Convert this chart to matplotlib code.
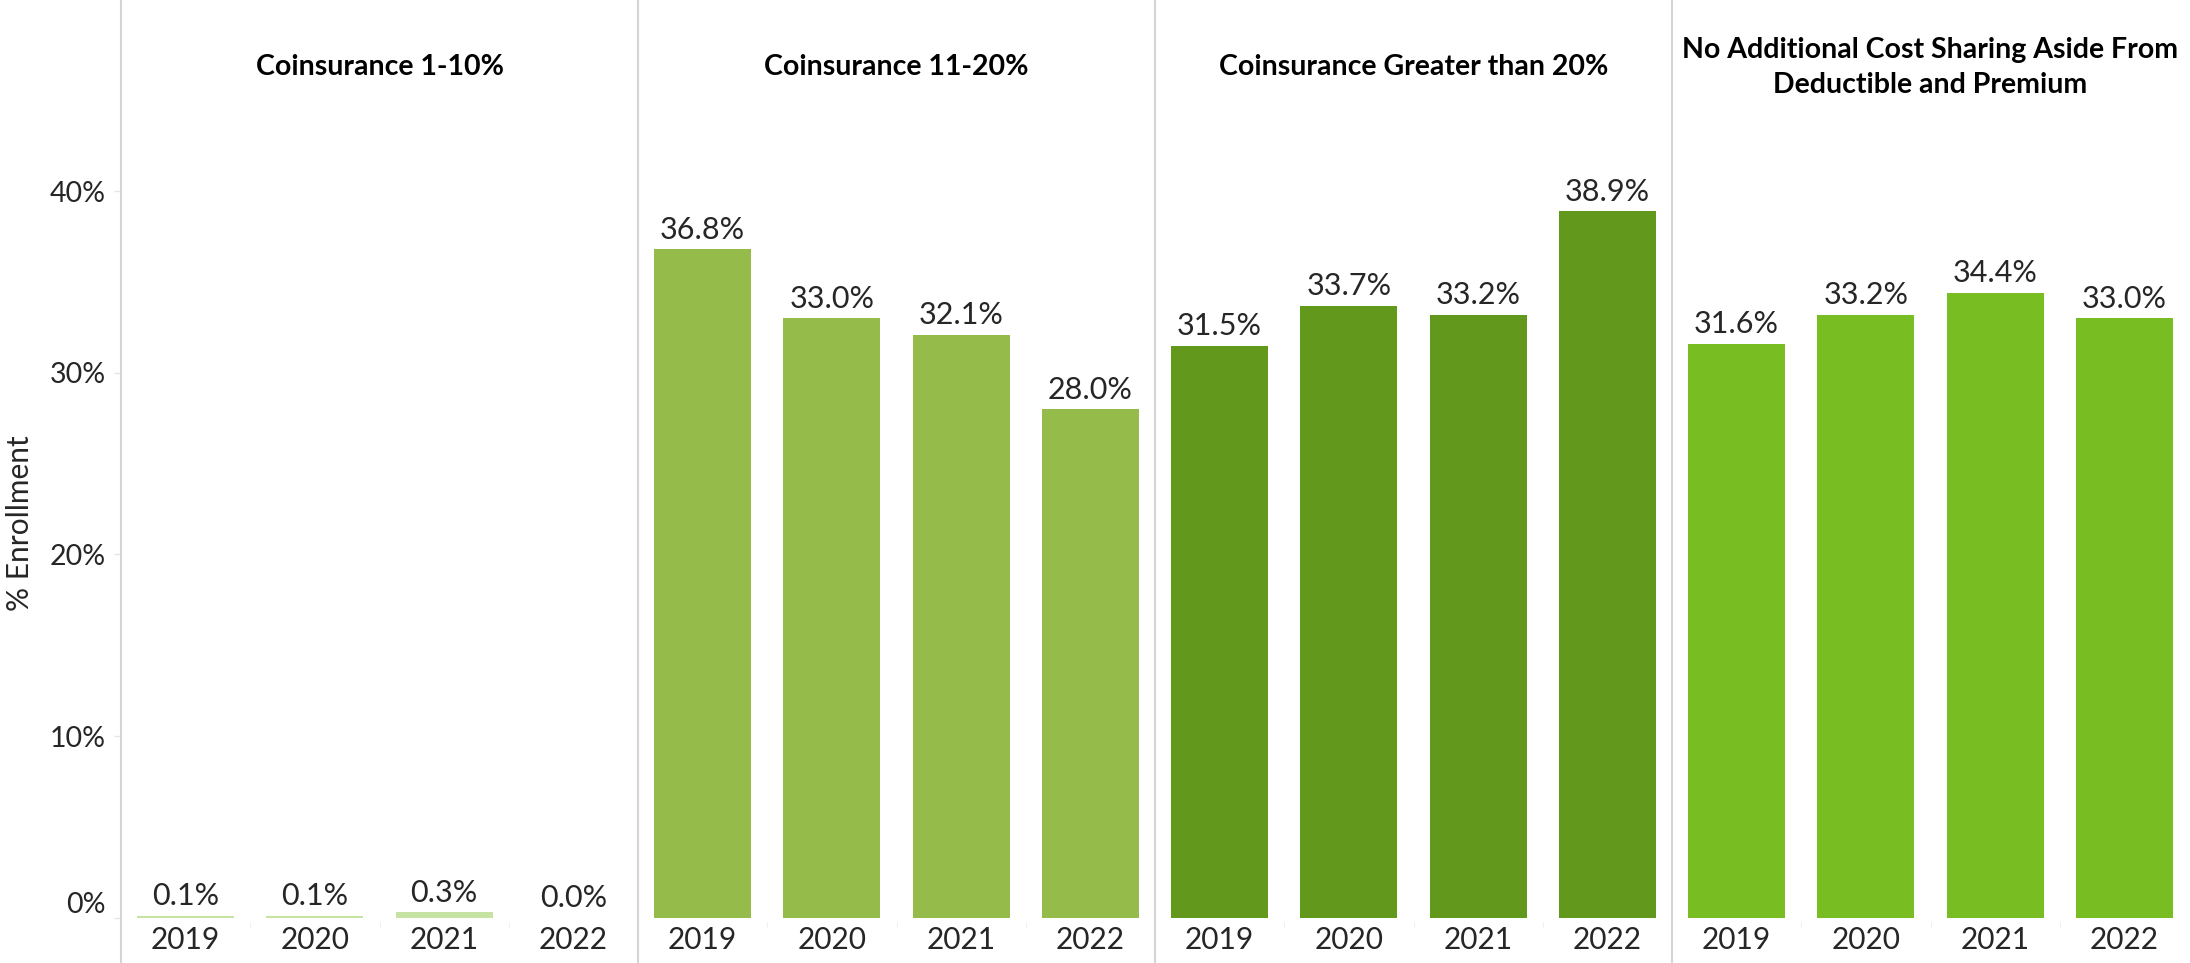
import matplotlib
matplotlib.use("Agg")
import matplotlib.pyplot as plt

plt.rcParams['font.family'] = ['Lato', 'DejaVu Sans']

years = ["2019", "2020", "2021", "2022"]
panels = [
    "Coinsurance 1-10%",
    "Coinsurance 11-20%",
    "Coinsurance Greater than 20%",
    "No Additional Cost Sharing Aside From\nDeductible and Premium",
]
coins_1_10 = [0.1, 0.1, 0.3, 0.0]
coins_11_20 = [36.8, 33.0, 32.1, 28.0]
coins_gt_20 = [31.5, 33.7, 33.2, 38.9]
no_extra = [31.6, 33.2, 34.4, 33.0]
values = [coins_1_10, coins_11_20, coins_gt_20, no_extra]
colors = ["#c7e3a4", "#95bb4b", "#62981c", "#78bd22"]
yticks = [0, 10, 20, 30, 40]

W, H = 2190, 963
fig = plt.figure(figsize=(W / 100, H / 100), dpi=100)

left0, pw = 121, 517
bottom_px = 41
grid = "#d4d4d4"
txt = "#262626"

for i, (title, vals, col) in enumerate(zip(panels, values, colors)):
    ax = fig.add_axes([(left0 + i * pw) / W, bottom_px / H, pw / W, (H - bottom_px) / H])
    x = range(len(years))
    bars = ax.bar(x, vals, width=0.75, color=col)
    for b, v in zip(bars, vals):
        ax.annotate(f"{v:.1f}%", (b.get_x() + b.get_width() / 2, b.get_height()),
                    xytext=(0, 4), textcoords="offset points",
                    ha="center", va="bottom", fontsize=22, color=txt)
    ax.set_xlim(-0.5, 3.5)
    ax.set_ylim(-0.24, 50.53)
    ax.set_xticks(list(x))
    ax.set_xticklabels(years, fontsize=21.5, color=txt)
    ax.tick_params(axis="x", length=0, pad=3)
    ax.set_xticks([0.5, 1.5, 2.5], minor=True)
    ax.tick_params(axis="x", which="minor", length=4, color="#ececec")
    for s in ["top", "right", "bottom", "left"]:
        ax.spines[s].set_visible(False)
    ax.axvline(-0.5, ymin=-0.05, ymax=1, color=grid, lw=1.5, clip_on=False)
    ax.text(0.5, 0.927, title, transform=ax.transAxes, ha="center", va="center",
            fontsize=20.5, fontweight="bold", color="black", linespacing=1.4)
    if i == 0:
        ax.set_yticks(yticks)
        ax.set_yticklabels([f"{t}%" for t in yticks], fontsize=20.5, color=txt)
        ax.tick_params(axis="y", length=5, width=1, color="#e6e6e6", pad=6)
        ax.get_yticklabels()[0].set_verticalalignment("bottom")
    else:
        ax.set_yticks([])

fig.text(20 / W, (H - 523) / H, "% Enrollment", rotation=90, ha="center", va="center",
         fontsize=21.5, color=txt)

fig.savefig("out.png", dpi=100, facecolor="white")
